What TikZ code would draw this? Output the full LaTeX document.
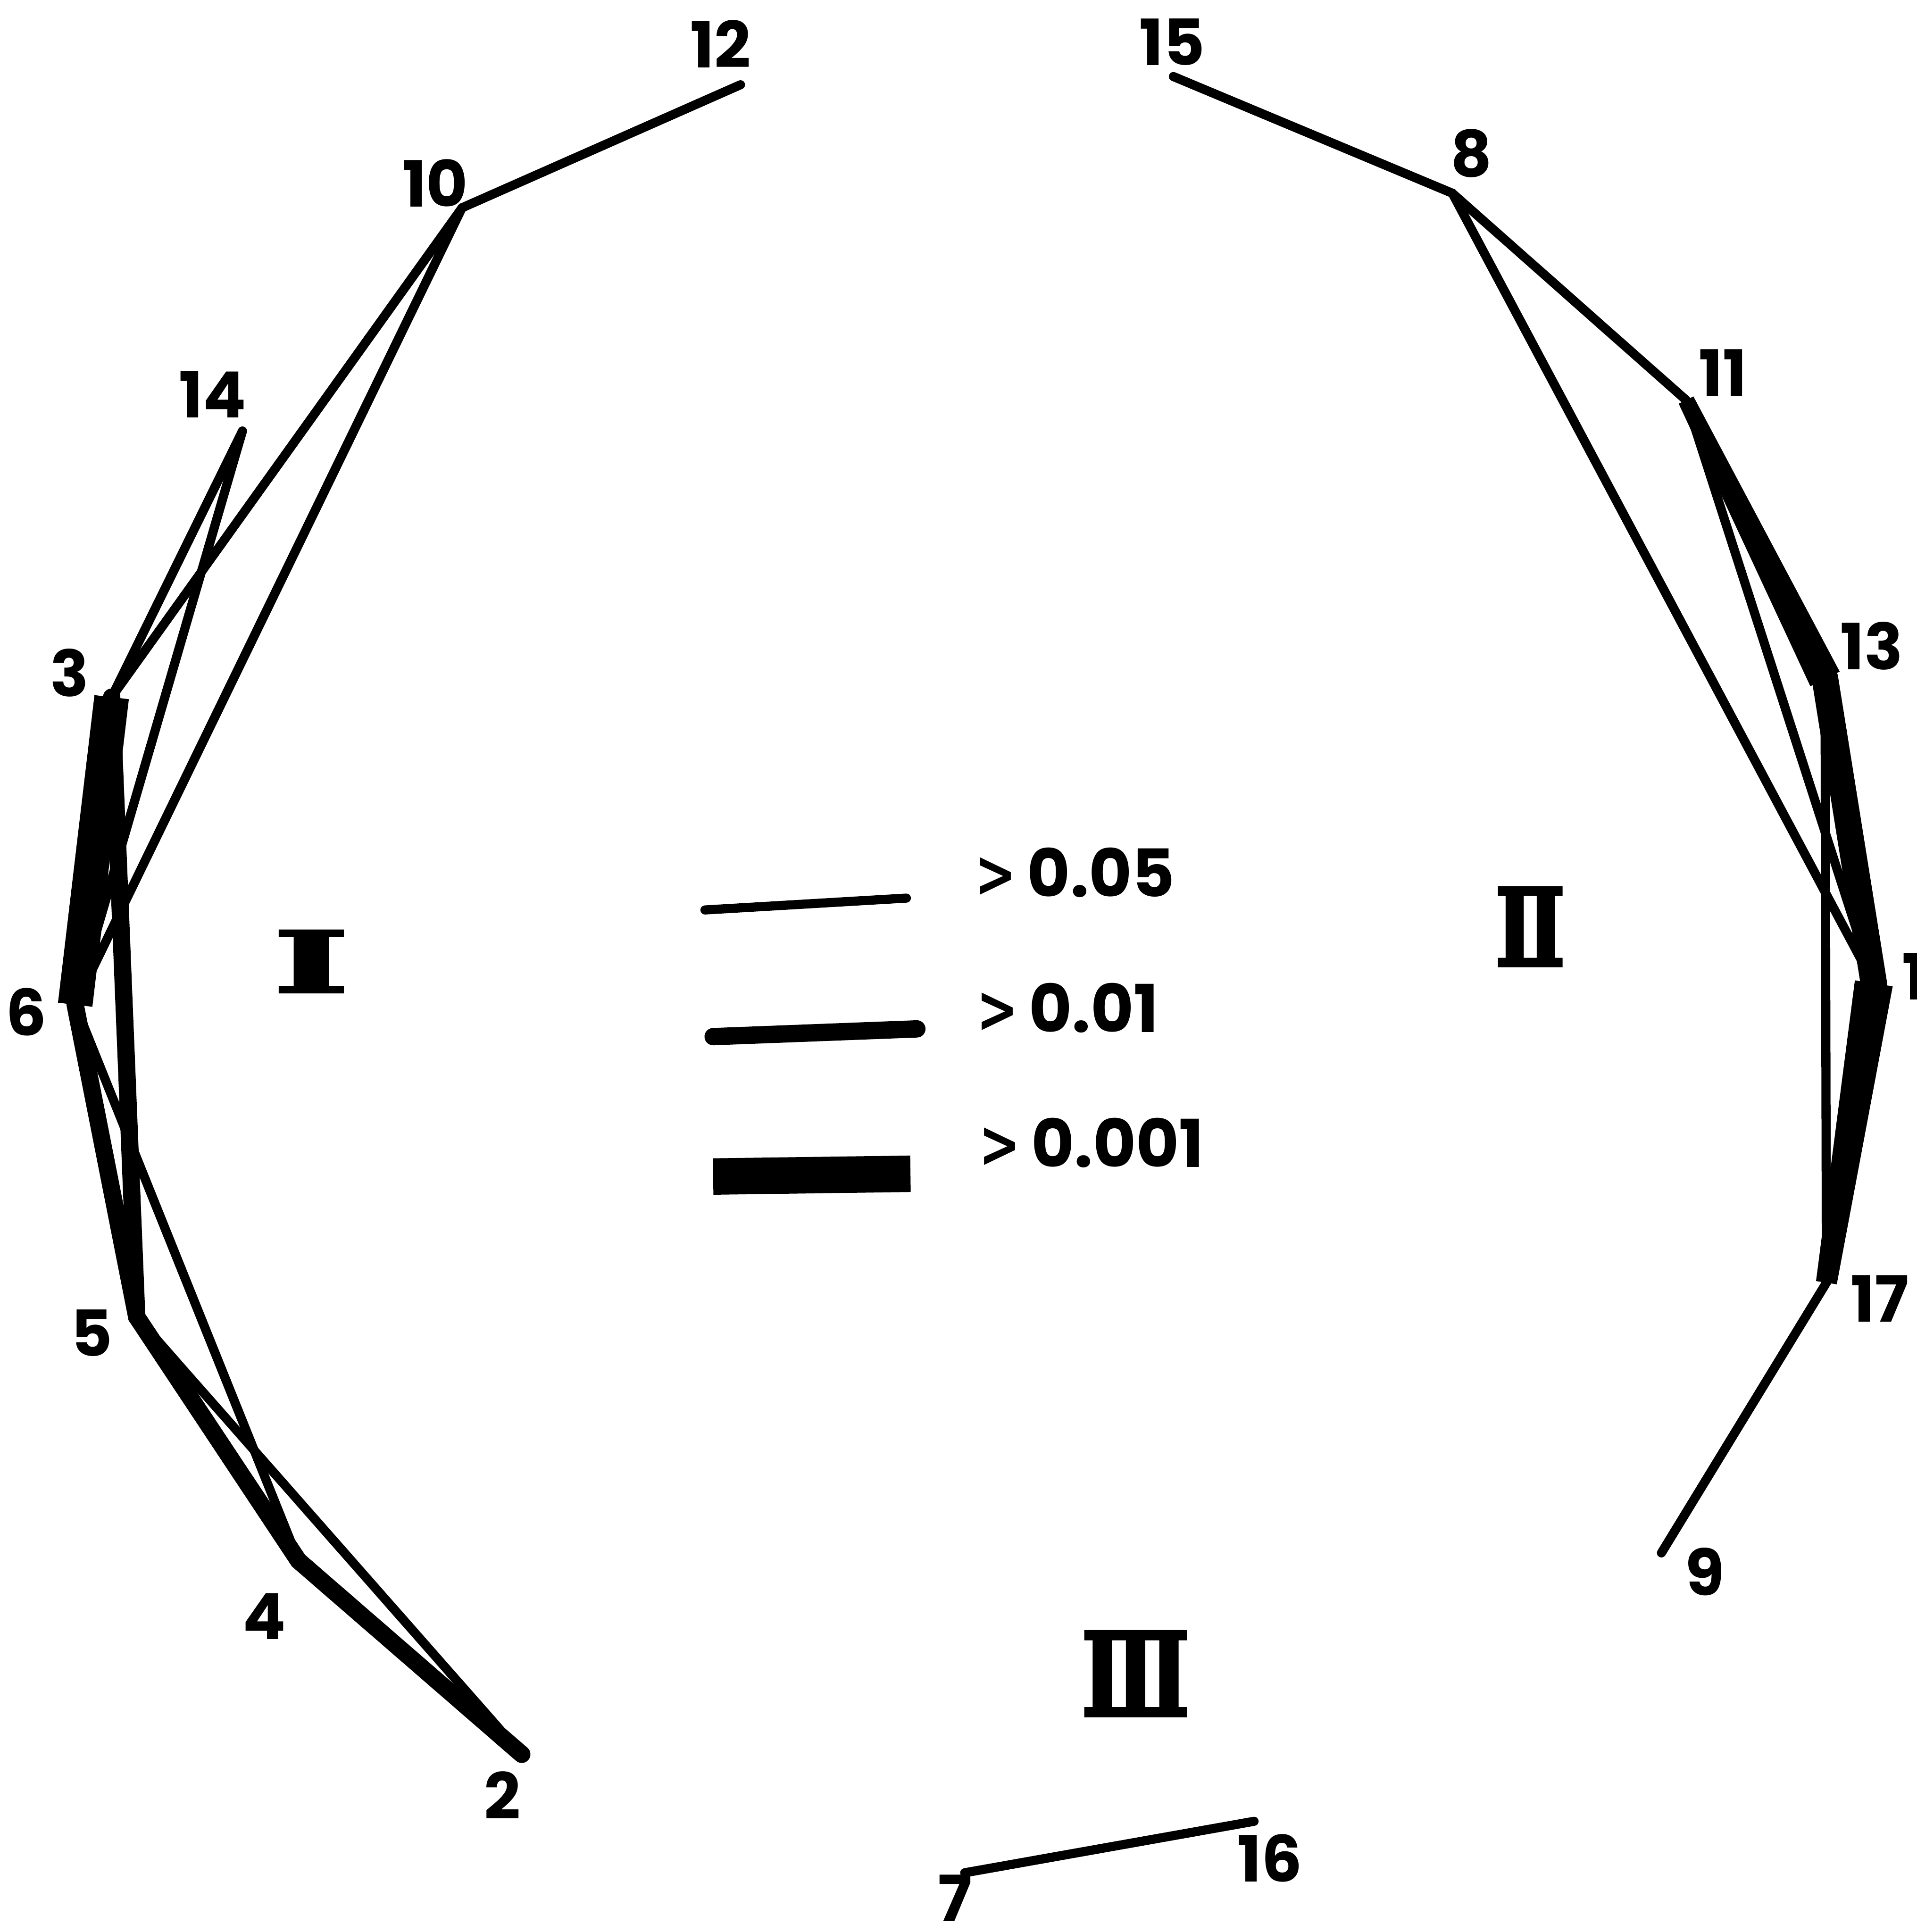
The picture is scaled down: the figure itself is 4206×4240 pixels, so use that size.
\documentclass[tikz,border=0pt]{standalone}
\usepackage{fontspec}
\setmainfont{Poppins}
\newfontfamily\romanfont{DejaVu Serif Bold}[FakeBold=3]
\newfontfamily\signfont{DejaVu Sans}
\usetikzlibrary{calc}

\begin{document}
\begin{tikzpicture}[x=0.1pt, y=-0.1pt,
    p05/.style={line width=2pt, line cap=round, line join=round},
    p01/.style={line width=3.8pt, line cap=round, line join=miter},
    p001/.style={line width=7.6pt, line cap=butt, line join=miter},
    num/.style={font=\bfseries\fontsize{14}{16}\selectfont, inner sep=0pt},
    key/.style={font=\bfseries\fontsize{14.5}{17}\selectfont, inner sep=0pt, anchor=west},
    grp/.style={font=\romanfont\fontsize{26}{30}\selectfont, inner sep=0pt}]

    % frame of the page
    \useasboundingbox (0,0) rectangle (4206,4240);

    % =========================================
    % 1. POINTS
    % =========================================
    % group I
    \coordinate (n12) at (1625,186);
    \coordinate (n10) at (1014,456);
    \coordinate (n14) at (532,946);
    \coordinate (n3) at (245,1530);
    \coordinate (n6) at (165,2205);
    \coordinate (n5) at (300,2890);
    \coordinate (n4) at (655,3425);
    \coordinate (n2) at (1145,3850);
    % group II
    \coordinate (n15) at (2575,168);
    \coordinate (n8) at (3187,424);
    \coordinate (n11) at (3700,878);
    \coordinate (n13) at (4005,1490);
    \coordinate (n1) at (4112,2158);
    \coordinate (n17) at (4008,2815);
    \coordinate (n9) at (3646,3408);
    % group III
    \coordinate (n7) at (2117,4110);
    \coordinate (n16) at (2752,3997);

    % =========================================
    % 2. LINKS
    % =========================================
    % group I
    \draw[p001] (n3) -- (n6);
    \draw[p01] (n3) -- (n5);
    \draw[p01] (n6) -- (n5) -- (n4) -- (n2);
    \draw[p05] (n10) -- (n12);
    \draw[p05] (n10) -- (n3);
    \draw[p05] (n10) -- (n6);
    \draw[p05] (n14) -- (n3);
    \draw[p05] (n14) -- (n6);
    \draw[p05] (n6) -- (n4);
    \draw[p05] (n5) -- (n2);

    % group II (the strong links get wider towards 13 and 1)
    \draw[p001, line width=5.8pt] ($(n13)!0.2!(n11)$) -- (n13) -- (n1) -- ($(n1)!0.3!(n17)$);
    \fill ($(n11)!1.8pt!90:(n13)$) -- ($(n13)!3.6pt!-90:(n11)$)
        -- ($(n13)!3.6pt!90:(n11)$) -- ($(n11)!1.8pt!-90:(n13)$) -- cycle;
    \fill ($(n1)!4.2pt!90:(n17)$) -- ($(n17)!2.3pt!-90:(n1)$)
        -- ($(n17)!2.3pt!90:(n1)$) -- ($(n1)!4.2pt!-90:(n17)$) -- cycle;
    \draw[p05] (n15) -- (n8);
    \draw[p05] (n8) -- (n11);
    \draw[p05] (n8) -- (n1);
    \draw[p05] (n11) -- (n1);
    \draw[p05] (n13) -- (n17);
    \draw[p05] (n17) -- (n9);

    % group III
    \draw[p05] (n7) -- (n16);

    % =========================================
    % 3. NUMBERS
    % =========================================
    \node[num] (l12) at (1581,96) {12};
    \node[num] (l10) at (955,402) {10};
    \node[num] (l14) at (467,866) {14};
    \node[num] (l3) at (153,1477) {3};
    \node[num] (l6) at (58,2221) {6};
    \node[num] (l5) at (201,2925) {5};
    \node[num] (l4) at (580,3547) {4};
    \node[num] (l2) at (1103,3940) {2};
    \node[num] (l15) at (2572,92) {15};
    \node[num] (l8) at (3229,337) {8};
    \node[num] (l11) at (3781,818) {11};
    \node[num] (l13) at (4107,1418) {13};
    \node[num, anchor=west] (l1) at (4172,2143) {1};
    \node[num] (l17) at (4125,2850) {17};
    \node[num] (l9) at (3741,3449) {9};
    \node[num] (l7) at (2096,4166) {7};
    \node[num] (l16) at (2787,4078) {16};

    % group names
    \node[grp] (gI) at (683,2110) {\scalebox{1.36}[0.71]{Ⅰ}};
    \node[grp] (gII) at (3358,2034) {\scalebox{0.7}[0.9]{Ⅱ}};
    \node[grp] (gIII) at (2492,3673) {\scalebox{0.75}[0.97]{Ⅲ}};

    % =========================================
    % 4. KEY
    % =========================================
    \coordinate (k1a) at (1547,1997);
    \coordinate (k1b) at (1989,1971);
    \coordinate (k2a) at (1565,2275);
    \coordinate (k2b) at (2012,2258);
    \coordinate (k3a) at (1565,2582);
    \coordinate (k3b) at (1998,2576);
    \draw[p05] (k1a) -- (k1b);
    \draw[p01] (k2a) -- (k2b);
    \draw[p001, line width=8pt] (k3a) -- (k3b);
    \node[key] (t1) at (2137,1915) {{\signfont\scalebox{0.75}[1]{>}}\,0.05};
    \node[key] (t2) at (2141,2212) {{\signfont\scalebox{0.75}[1]{>}}\,0.01};
    \node[key] (t3) at (2146,2508) {{\signfont\scalebox{0.75}[1]{>}}\,0.001};

\end{tikzpicture}
\end{document}
